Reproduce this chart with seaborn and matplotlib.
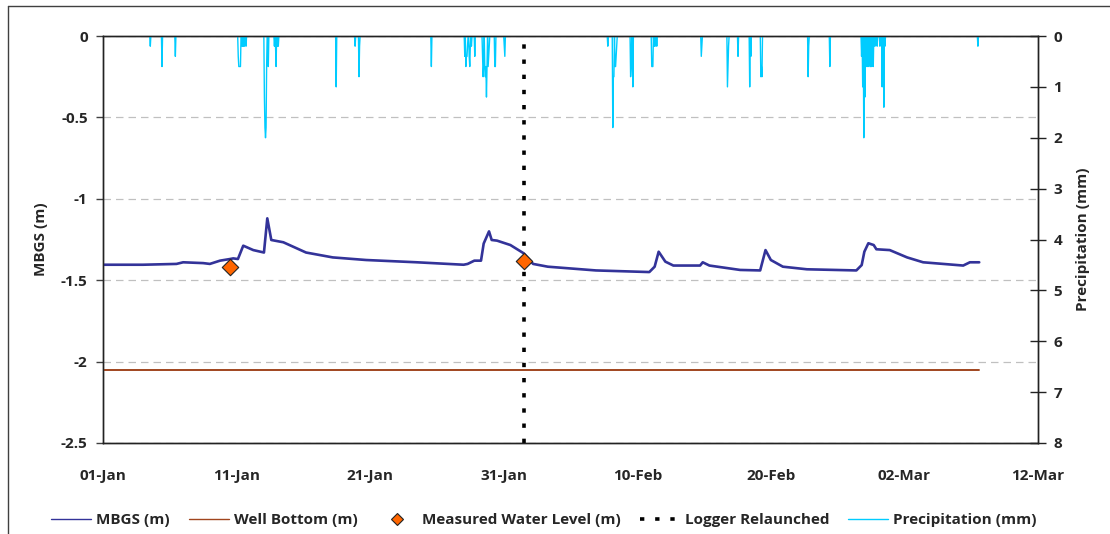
import numpy as np
import pandas as pd
import matplotlib
matplotlib.use("Agg")
import matplotlib.pyplot as plt
import matplotlib.dates as mdates
from matplotlib.lines import Line2D
from matplotlib.ticker import FuncFormatter
import seaborn as sns

# ---------------- data (days since 01-Jan) ----------------
start_date = "2019-01-01"

mbgs_days = [0.0, 3.0, 5.5, 6.0, 7.5, 8.0, 8.76, 9.5, 9.75, 10.1, 10.5, 11.25, 12.05, 12.3,
             12.6, 13.5, 15.2, 17.2, 19.7, 23.5, 27.0, 27.3, 27.8, 28.3, 28.5, 28.9, 29.1,
             29.5, 30.5, 31.5, 32.2, 33.3, 36.9, 40.9, 41.3, 41.6, 42.1, 42.7, 44.7, 44.9,
             45.4, 47.7, 49.2, 49.6, 50.0, 50.9, 52.7, 56.4, 56.8, 57.0, 57.3, 57.7, 57.9,
             58.9, 60.2, 61.4, 64.4, 64.9, 65.6]
mbgs_vals = [-1.405, -1.405, -1.40, -1.39, -1.395, -1.40, -1.38, -1.37, -1.366, -1.37, -1.288,
             -1.315, -1.33, -1.12, -1.253, -1.267, -1.33, -1.36, -1.376, -1.39, -1.405, -1.40,
             -1.38, -1.38, -1.275, -1.20, -1.253, -1.257, -1.284, -1.335, -1.40, -1.417, -1.44,
             -1.45, -1.417, -1.325, -1.386, -1.41, -1.41, -1.39, -1.41, -1.437, -1.44, -1.315,
             -1.376, -1.417, -1.433, -1.44, -1.407, -1.325, -1.273, -1.284, -1.31, -1.315,
             -1.36, -1.39, -1.41, -1.39, -1.39]

well_bottom_days = [0.0, 65.6]
well_bottom_vals = [-2.05, -2.05]

measured_days = [9.5, 31.5]
measured_vals = [-1.42, -1.38]

relaunch_day = 31.5

precip_days = [3.56, 4.42, 5.42,
               10.13, 10.17, 10.21, 10.25, 10.29, 10.4, 10.5, 10.6, 10.7,
               12.07, 12.12, 12.17, 12.21, 12.25, 12.38,
               12.82, 12.9, 12.97, 13.05, 13.12,
               17.46, 18.86, 19.16, 19.2, 24.6,
               27.1, 27.15, 27.2, 27.25, 27.3, 27.4, 27.45, 27.5, 27.6, 27.84,
               28.42, 28.47, 28.52, 28.57, 28.62, 28.67, 28.72, 28.77, 28.82, 28.87, 28.92,
               29.34, 29.38, 30.05, 30.09,
               37.78, 38.15, 38.18, 38.22, 38.27, 38.32, 38.36, 38.4, 38.45,
               39.5, 39.55, 39.65,
               41.07, 41.12, 41.17, 41.25, 41.35, 41.45,
               44.81, 44.85, 46.73, 46.78, 46.83, 47.55, 48.43, 48.48,
               49.25, 49.3, 49.35, 52.79, 52.83, 54.42,
               56.79, 56.86, 56.96, 57.04, 57.11, 57.2, 57.29, 57.35, 57.41, 57.47, 57.53,
               57.6, 57.66, 57.78, 57.95, 58.15, 58.35, 58.45, 58.53,
               65.52]
precip_mm = [0.2, 0.6, 0.4,
             0.4, 0.6, 0.6, 0.6, 0.6, 0.2, 0.2, 0.2, 0.2,
             1.2, 1.8, 2.0, 1.8, 0.6, 0.6,
             0.2, 0.2, 0.6, 0.2, 0.2,
             1.0, 0.2, 0.8, 0.2, 0.6,
             0.4, 0.6, 0.4, 0.4, 0.2, 0.4, 0.6, 0.2, 0.2, 0.4,
             0.4, 0.8, 0.6, 0.6, 0.8, 0.6, 1.2, 0.6, 0.6, 0.4, 0.2,
             0.6, 0.6, 0.2, 0.4,
             0.2, 0.4, 1.8, 0.8, 0.8, 0.6, 0.6, 0.4, 0.2,
             0.8, 0.6, 1.0,
             0.6, 0.6, 0.6, 0.2, 0.2, 0.2,
             0.4, 0.2, 1.0, 0.6, 0.2, 0.4, 1.0, 0.4,
             0.8, 0.6, 0.8, 0.8, 0.2, 0.6,
             0.4, 1.0, 2.0, 1.2, 0.6, 0.6, 0.6, 0.4, 0.6, 0.6, 0.6,
             0.4, 0.6, 0.2, 0.2, 0.2, 1.0, 1.4, 0.2,
             0.2]
precip_record_end_day = 65.6

x_tick_days = [0, 10, 20, 30, 40, 50, 60, 70]

# ---------------- helpers ----------------
t0 = pd.Timestamp(start_date)


def to_dt(days):
    return t0 + pd.to_timedelta(np.asarray(days, dtype=float), unit="D")


# hourly precipitation record: zero except the recorded tips
n_hours = int(round(precip_record_end_day * 24)) + 1
hourly = np.zeros(n_hours)
for d, v in zip(precip_days, precip_mm):
    hourly[int(round(d * 24))] = v
precip_df = pd.DataFrame({"time": t0 + pd.to_timedelta(np.arange(n_hours), unit="h"),
                          "mm": hourly})

mbgs_df = pd.DataFrame({"time": to_dt(mbgs_days), "mbgs": mbgs_vals})
wb_df = pd.DataFrame({"time": to_dt(well_bottom_days), "wb": well_bottom_vals})
meas_df = pd.DataFrame({"time": to_dt(measured_days), "lvl": measured_vals})

# ---------------- style ----------------
sns.set_theme(style="white")
plt.rcParams["font.family"] = ["Open Sans", "DejaVu Sans"]
plt.rcParams["font.weight"] = "bold"
FS = 11

C_MBGS = "#333399"
C_WB = "#A0451E"
C_MEAS = "#FF6600"
C_PREC = "#00CCFF"

fig = plt.figure(figsize=(11.1, 5.34), dpi=100)
fig.patch.set_facecolor("white")
W, H = 1110, 534
L, R, T, B = 103, 1038, 36, 443
ax = fig.add_axes([L / W, 1 - B / H, (R - L) / W, (B - T) / H])
ax2 = ax.twinx()

# primary axis series
sns.lineplot(data=mbgs_df, x="time", y="mbgs", ax=ax, color=C_MBGS, lw=1.9,
             estimator=None, sort=False, zorder=3)
sns.lineplot(data=wb_df, x="time", y="wb", ax=ax, color=C_WB, lw=1.4,
             estimator=None, zorder=3)
ax.axvline(to_dt([relaunch_day])[0], color="black", lw=2.6, ls=(0, (1.2, 3.0)), zorder=4)
sns.scatterplot(data=meas_df, x="time", y="lvl", ax=ax, marker="D", s=70,
                color=C_MEAS, edgecolor="#222222", linewidth=0.8, zorder=5)

# secondary axis precipitation
sns.lineplot(data=precip_df, x="time", y="mm", ax=ax2, color=C_PREC, lw=1.0,
             estimator=None, sort=False)

# axes limits / ticks
ax.set_xlim(to_dt([0])[0], to_dt([70])[0])
ax.set_xticks(to_dt(x_tick_days))
ax.xaxis.set_major_formatter(mdates.DateFormatter("%d-%b"))
ax.set_ylim(-2.5, 0)
ax.set_yticks(np.arange(-2.5, 0.01, 0.5))
ax.yaxis.set_major_formatter(FuncFormatter(lambda v, p: "0" if abs(v) < 1e-9 else f"{v:g}"))
ax2.set_ylim(8, 0)
ax2.set_yticks(range(0, 9))

ax.tick_params(axis="x", length=0, pad=19, labelsize=FS)
ax.tick_params(axis="y", direction="out", length=5, width=1, color="#404040", pad=6,
               labelsize=FS, left=True)
ax2.tick_params(axis="y", direction="inout", length=12, width=1, color="#222222", pad=5,
                labelsize=FS, right=True)

ax.yaxis.grid(True, ls=(0, (6, 4)), color="#C0C0C0", lw=0.9)
ax.xaxis.grid(False)
for a in (ax, ax2):
    for s in a.spines.values():
        s.set_color("#222222")
        s.set_linewidth(1.0)

ax.set_xlabel("")
ax.set_ylabel("MBGS (m)", fontsize=FS, fontweight="bold")
ax.yaxis.set_label_coords(-0.059, 0.5)
ax2.set_ylabel("Precipitation (mm)", fontsize=FS, fontweight="bold")
ax2.yaxis.set_label_coords(1.041, 0.5)

# legend
handles = [
    Line2D([], [], color=C_MBGS, lw=1.0),
    Line2D([], [], color=C_WB, lw=1.0),
    Line2D([], [], color=C_MEAS, marker="D", ls="none", markersize=6,
           markeredgecolor="#222222", markeredgewidth=0.8),
    Line2D([], [], color="black", lw=2.6, ls=(0, (1.2, 3.0))),
    Line2D([], [], color=C_PREC, lw=1.0),
]
labels = ["MBGS (m)", "Well Bottom (m)", "Measured Water Level (m)",
          "Logger Relaunched", "Precipitation (mm)"]
fig.legend(handles, labels, loc="center", bbox_to_anchor=(544 / W, 1 - 520 / H), ncol=5,
           frameon=False, handlelength=2.6, handletextpad=0.35,
           columnspacing=1.25, prop={"weight": "bold", "size": FS})

# outer chart-area border (cropped on right/bottom)
fig.add_artist(Line2D([8 / W, 8 / W], [0, 1 - 6 / H], transform=fig.transFigure,
                      color="#404040", lw=1.0))
fig.add_artist(Line2D([8 / W, 1], [1 - 6 / H, 1 - 6 / H], transform=fig.transFigure,
                      color="#404040", lw=1.0))

fig.savefig("out.png", dpi=100, facecolor="white")
